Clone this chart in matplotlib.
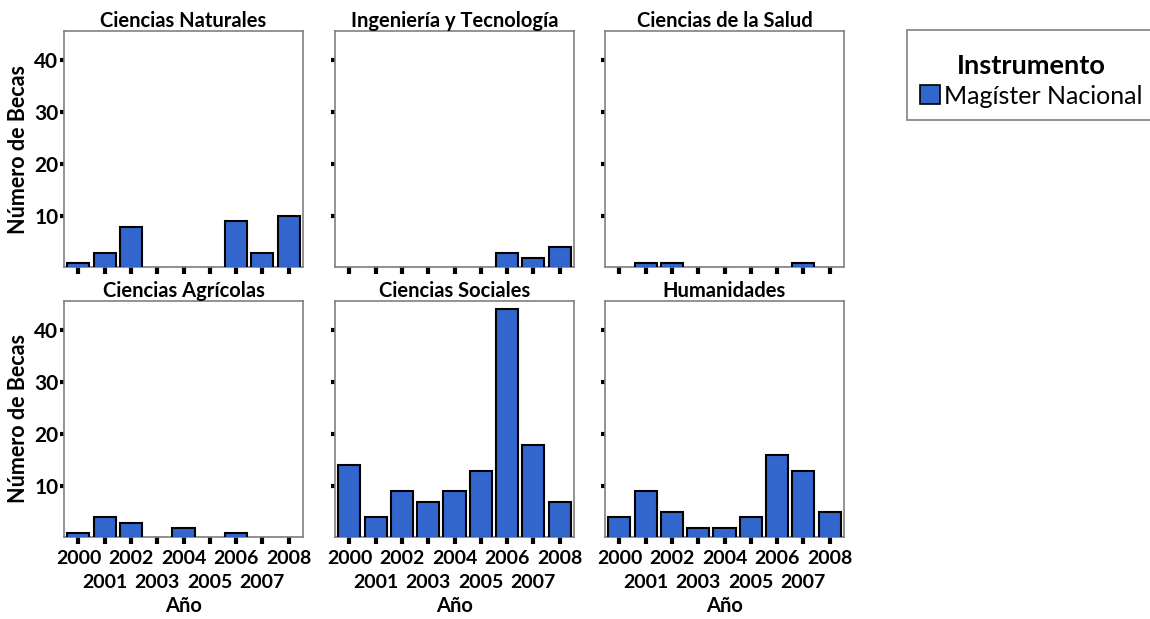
import matplotlib
matplotlib.use("Agg")
import matplotlib.pyplot as plt
from matplotlib.patches import Patch
from matplotlib.offsetbox import DrawingArea

plt.rcParams['font.family'] = ['Lato', 'DejaVu Sans']

years = ['2000', '2001', '2002', '2003', '2004', '2005', '2006', '2007', '2008']
areas = ['Ciencias Naturales', 'Ingeniería y Tecnología', 'Ciencias de la Salud',
         'Ciencias Agrícolas', 'Ciencias Sociales', 'Humanidades']
naturales = [1, 3, 8, 0, 0, 0, 9, 3, 10]
ingenieria = [0, 0, 0, 0, 0, 0, 3, 2, 4]
salud = [0, 1, 1, 0, 0, 0, 0, 1, 0]
agricolas = [1, 4, 3, 0, 2, 0, 1, 0, 0]
sociales = [14, 4, 9, 7, 9, 13, 44, 18, 7]
humanidades = [4, 9, 5, 2, 2, 4, 16, 13, 5]
series = [naturales, ingenieria, salud, agricolas, sociales, humanidades]
yticks = [10, 20, 30, 40]
legend_title = 'Instrumento'
legend_label = 'Magíster Nacional'

BAR = '#3366CC'
W, H = 1150, 619
fig = plt.figure(figsize=(W / 100, H / 100), dpi=100)

lefts = [64, 335, 605]
tops = [31, 301]
aw, ah = 239, 236

for i, (name, vals) in enumerate(zip(areas, series)):
    r, c = divmod(i, 3)
    ax = fig.add_axes([lefts[c] / W, 1 - (tops[r] + ah) / H, aw / W, ah / H])
    x = list(range(len(years)))
    ax.bar(x, vals, width=0.84, color=BAR, edgecolor='black', linewidth=1.5, zorder=3)
    ax.set_xlim(-0.55, 8.55)
    ax.set_ylim(0.25, 45.6)
    for s in ax.spines.values():
        s.set_color('#808080')
        s.set_linewidth(1.2)
    ax.set_yticks(yticks)
    even = x[0::2]
    odd = x[1::2]
    ax.set_xticks(even)
    ax.set_xticks(odd, minor=True)
    ax.tick_params(axis='y', direction='out', length=3, width=3, color='black',
                   labelsize=15, pad=1)
    ax.tick_params(axis='x', which='both', direction='out', length=5, width=3,
                   color='black', labelsize=14)
    ax.tick_params(axis='x', which='major', pad=4)
    ax.tick_params(axis='x', which='minor', pad=22)
    ax.set_title(name, fontsize=14.5, fontweight='bold', pad=3)
    if c == 0:
        ax.set_yticklabels([str(t) for t in yticks], fontweight='bold')
        ax.set_ylabel('Número de Becas', fontsize=15.5, fontweight='bold', labelpad=4)
    else:
        ax.set_yticklabels([])
    if r == 1:
        ax.set_xticklabels([years[k] for k in even], fontweight='bold')
        ax.set_xticklabels([years[k] for k in odd], minor=True, fontweight='bold')
        ax.set_xlabel('Año', fontsize=14.5, fontweight='bold', labelpad=3)
    else:
        ax.set_xticklabels([])
        ax.set_xticklabels([], minor=True)

handle = Patch(facecolor=BAR, edgecolor='black', linewidth=1.2)
leg = fig.legend([handle], [legend_label], loc='upper left',
                 bbox_to_anchor=(907 / W, 1 - 30 / H), title=legend_title,
                 fontsize=18, title_fontproperties={'weight': 'bold', 'size': 19.5},
                 frameon=True, fancybox=False, edgecolor='#606060',
                 handlelength=0.8, handleheight=0.8, handletextpad=0.2,
                 labelspacing=0.1, borderpad=0.5, borderaxespad=0)
leg.get_frame().set_linewidth(1.2)
box = leg._legend_box
box.sep = 0
kids = box.get_children()
box._children = [DrawingArea(1, 8), kids[0], DrawingArea(1, 5), kids[1], DrawingArea(1, 0)]

fig.savefig('out.png', dpi=100)
